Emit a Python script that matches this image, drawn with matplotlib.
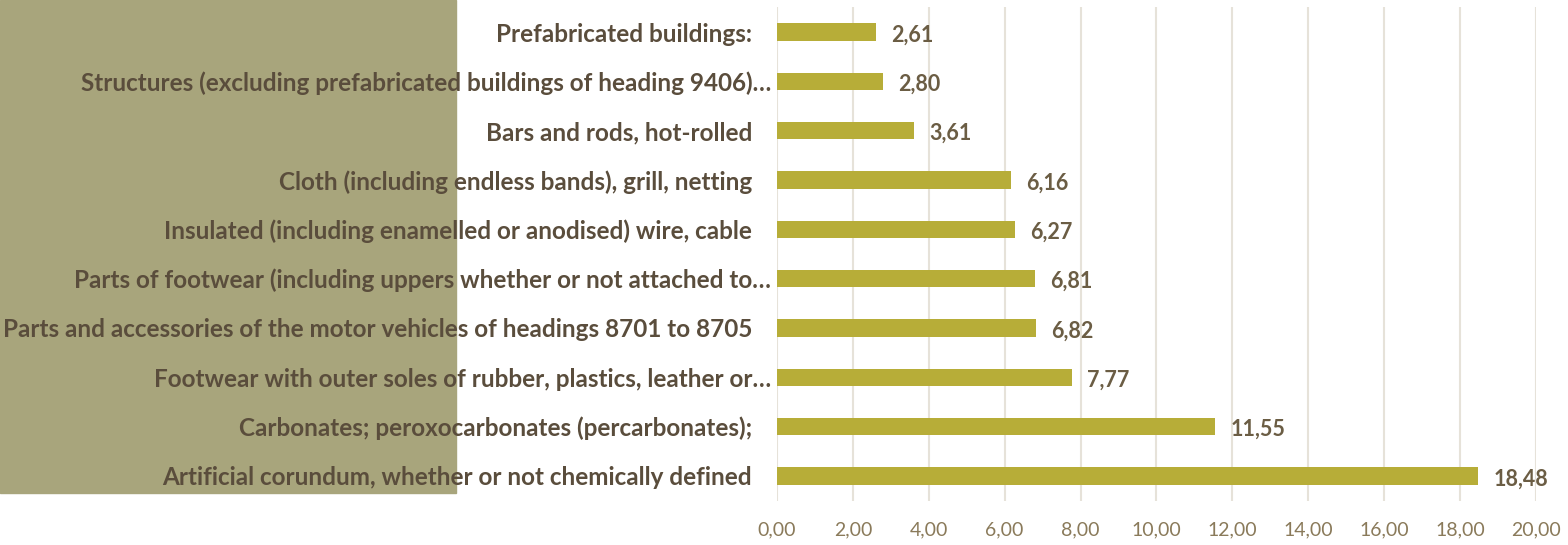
import matplotlib.pyplot as plt
import matplotlib.transforms as mtransforms
from matplotlib.patches import Rectangle

# data, top to bottom as shown
CATEGORIES = [
    "Prefabricated buildings:",
    "Structures (excluding prefabricated buildings of heading 9406)…",
    "Bars and rods, hot-rolled",
    "Cloth (including endless bands), grill, netting",
    "Insulated (including enamelled or anodised) wire, cable",
    "Parts of footwear (including uppers whether or not attached to…",
    "Parts and accessories of the motor vehicles of headings 8701 to 8705",
    "Footwear with outer soles of rubber, plastics, leather or…",
    "Carbonates; peroxocarbonates (percarbonates);",
    "Artificial corundum, whether or not chemically defined",
]
VALUES = [2.61, 2.80, 3.61, 6.16, 6.27, 6.81, 6.82, 7.77, 11.55, 18.48]
XTICKS = [0, 2, 4, 6, 8, 10, 12, 14, 16, 18, 20]

BAR = "#b7ad38"
LABEL = "#5a4d3c"
VALUE = "#6b5d44"
TICK = "#8a7a5a"
GRID = "#e6e2d9"
PANEL = "#a8a57c"

plt.rcParams["font.family"] = ["Lato", "DejaVu Sans"]

fig = plt.figure(figsize=(15.68, 5.45), dpi=100)
fig.patches.append(Rectangle((0, 1 - 493 / 545), 456 / 1568, 493 / 545,
                             transform=fig.transFigure, color=PANEL, zorder=-10))
ax = fig.add_axes([0.4955, 0.0815, 0.4841, 0.905])
ax.set_facecolor("none")

y = list(range(len(CATEGORIES)))
ax.barh(y, VALUES, height=0.35, color=BAR, zorder=2)
ax.set_ylim(len(CATEGORIES) - 0.5, -0.5)
ax.set_xlim(0, 20)

for yi, v in zip(y, VALUES):
    ax.annotate(f"{v:.2f}".replace(".", ","), (v, yi), xytext=(15, -3),
                textcoords="offset pixels", ha="left", va="center",
                fontsize=15.5, fontweight="bold", color=VALUE)

ax.set_xticks(XTICKS)
ax.set_xticklabels([f"{t:.2f}".replace(".", ",") for t in XTICKS],
                   fontsize=14, color=TICK)
ax.set_yticks(y)
ax.set_yticklabels(CATEGORIES, fontsize=17.5, fontweight="bold", color=LABEL)
ax.tick_params(axis="y", length=0, pad=18)
ax.tick_params(axis="x", length=0, pad=15)

# truncated labels run a little further right, as in the source
for lab in ax.get_yticklabels():
    if lab.get_text().endswith("…"):
        lab.set_transform(lab.get_transform() +
                          mtransforms.ScaledTranslation(0.19, 0, fig.dpi_scale_trans))

ax.grid(axis="x", color=GRID, lw=1.5, zorder=0)
for s in ax.spines.values():
    s.set_visible(False)

fig.savefig("out.png", dpi=100, facecolor="white")
